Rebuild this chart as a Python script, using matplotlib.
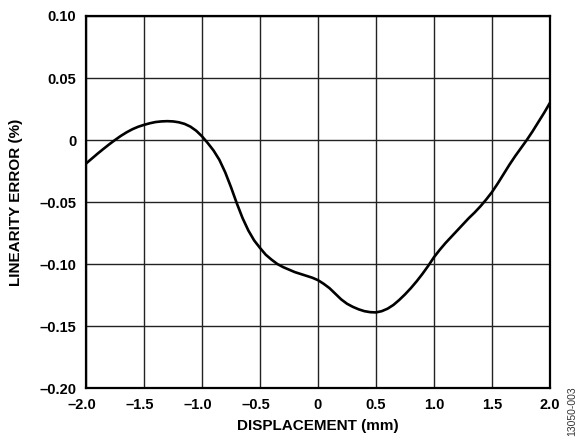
import numpy as np
import matplotlib
matplotlib.use("Agg")
from matplotlib import pyplot as plt
from matplotlib.transforms import ScaledTranslation

# displacement (mm) vs linearity error (%), every 0.05 mm
displacement = [-2.00, -1.95, -1.90, -1.85, -1.80, -1.75, -1.70, -1.65, -1.60, -1.55,
                -1.50, -1.45, -1.40, -1.35, -1.30, -1.25, -1.20, -1.15, -1.10, -1.05,
                -1.00, -0.95, -0.90, -0.85, -0.80, -0.75, -0.70, -0.65, -0.60, -0.55,
                -0.50, -0.45, -0.40, -0.35, -0.30, -0.25, -0.20, -0.15, -0.10, -0.05,
                0.00, 0.05, 0.10, 0.15, 0.20, 0.25, 0.30, 0.35, 0.40, 0.45,
                0.50, 0.55, 0.60, 0.65, 0.70, 0.75, 0.80, 0.85, 0.90, 0.95,
                1.00, 1.05, 1.10, 1.15, 1.20, 1.25, 1.30, 1.35, 1.40, 1.45,
                1.50, 1.55, 1.60, 1.65, 1.70, 1.75, 1.80, 1.85, 1.90, 1.95, 2.00]
lin_error = [-0.0190, -0.0150, -0.0110, -0.0072, -0.0035, 0.0000, 0.0033, 0.0062, 0.0087, 0.0107,
             0.0122, 0.0135, 0.0145, 0.0150, 0.0152, 0.0150, 0.0143, 0.0130, 0.0108, 0.0075,
             0.0030, -0.0025, -0.0085, -0.0160, -0.0260, -0.0380, -0.0510, -0.0630, -0.0730, -0.0810,
             -0.0870, -0.0925, -0.0965, -0.1000, -0.1025, -0.1045, -0.1065, -0.1080, -0.1095, -0.1110,
             -0.1130, -0.1160, -0.1195, -0.1240, -0.1285, -0.1320, -0.1345, -0.1365, -0.1380, -0.1388,
             -0.1390, -0.1380, -0.1360, -0.1330, -0.1290, -0.1245, -0.1195, -0.1140, -0.1080, -0.1015,
             -0.0945, -0.0885, -0.0830, -0.0780, -0.0730, -0.0680, -0.0630, -0.0585, -0.0535, -0.0480,
             -0.0420, -0.0350, -0.0275, -0.0200, -0.0130, -0.0065, 0.0000, 0.0070, 0.0145, 0.0220, 0.0300]

x_ticks = [-2.0, -1.5, -1.0, -0.5, 0.0, 0.5, 1.0, 1.5, 2.0]
x_labels = ["\u20132.0", "\u20131.5", "\u20131.0", "\u20130.5", "0", "0.5", "1.0", "1.5", "2.0"]
y_ticks = [0.10, 0.05, 0.0, -0.05, -0.10, -0.15, -0.20]
y_labels = ["0.10", "0.05", "0", "\u20130.05", "\u20130.10", "\u20130.15", "\u20130.20"]

plt.rcParams["font.family"] = ["Liberation Sans", "DejaVu Sans"]

fig = plt.figure(figsize=(5.81, 4.37), dpi=100)
ax = fig.add_axes([0.148, 0.112, 0.7986, 0.8514])

ax.plot(displacement, lin_error, color="black", linewidth=1.9)

ax.set_xlim(-2.0, 2.0)
ax.set_ylim(-0.20, 0.10)

# gridlines
ax.set_xticks(x_ticks)
ax.set_yticks(y_ticks)
ax.grid(True, color="#222222", linewidth=1.0)
ax.set_axisbelow(True)
for s in ax.spines.values():
    s.set_linewidth(1.6)

ax.tick_params(length=0, pad=7, labelsize=10.5)
ax.set_yticklabels(y_labels, fontweight="bold")

# x tick labels by hand so negative numbers centre on the digits, dash hanging left
ax.set_xticklabels([])
for xv, lab in zip(x_ticks, x_labels):
    t = ax.text(xv, 0, lab, ha="center", va="top", fontsize=10.5, fontweight="bold")
    dx = -3.3 / 72 if lab.startswith("\u2013") else 0
    t.set_transform(ax.get_xaxis_transform() + ScaledTranslation(dx, -7.0 / 72, fig.dpi_scale_trans))

ax.set_xlabel("DISPLACEMENT (mm)", fontsize=11, fontweight="bold")
ax.set_ylabel("LINEARITY ERROR (%)", fontsize=11, fontweight="bold")
ax.xaxis.set_label_coords(0.5, -0.083)
ax.yaxis.set_label_coords(-0.135, 0.5)

fig.text(0.993, 0.003, "13050-003", rotation=90, fontsize=7.5, color="#333333",
         ha="right", va="bottom")

fig.savefig("out.png", dpi=100)
